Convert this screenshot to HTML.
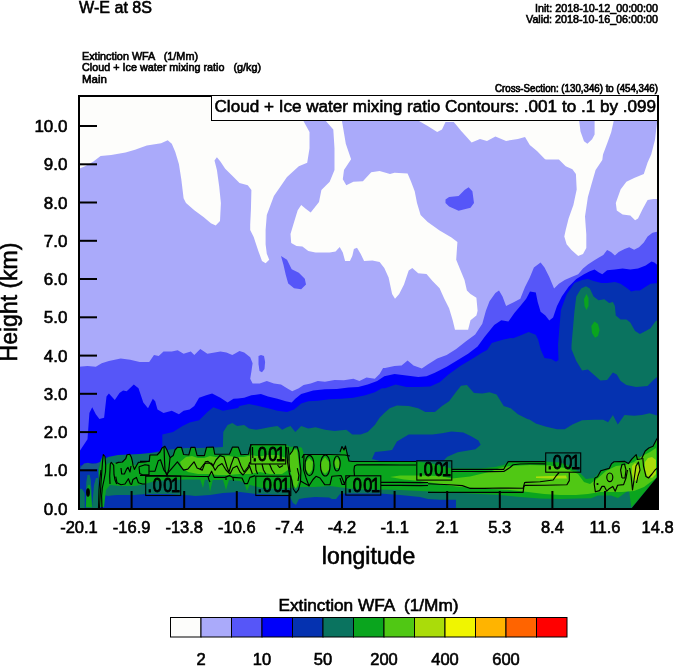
<!DOCTYPE html>
<html><head><meta charset="utf-8"><title>W-E at 8S</title>
<style>
html,body{margin:0;padding:0;background:#fff;}
body{width:674px;height:667px;overflow:hidden;position:relative;}
svg{position:absolute;left:0;top:0;display:block;}
text{font-family:"Liberation Sans",Arial,Helvetica,sans-serif;fill:#000;stroke:#000;stroke-width:0.6px;}
.sm{stroke-width:0.65px;}
.lbl text{stroke-width:0.9px;}
</style></head><body>
<svg width="674" height="667" viewBox="0 0 674 667">
<defs><clipPath id="pc"><rect x="79" y="96" width="579" height="413"/></clipPath></defs>
<!-- titles -->
<text x="79" y="13.2" font-size="17" textLength="73" lengthAdjust="spacingAndGlyphs">W-E at 8S</text>
<text class="sm" x="658" y="12" font-size="11.6" text-anchor="end" textLength="123" lengthAdjust="spacingAndGlyphs">Init: 2018-10-12_00:00:00</text>
<text class="sm" x="658" y="22.9" font-size="11.6" text-anchor="end" textLength="132" lengthAdjust="spacingAndGlyphs">Valid: 2018-10-16_06:00:00</text>
<text class="sm" x="82" y="59.6" font-size="11.6" textLength="116" lengthAdjust="spacingAndGlyphs" xml:space="preserve">Extinction WFA   (1/Mm)</text>
<text class="sm" x="82" y="71.4" font-size="11.6" textLength="179" lengthAdjust="spacingAndGlyphs" xml:space="preserve">Cloud + Ice water mixing ratio   (g/kg)</text>
<text class="sm" x="82" y="83" font-size="11.6" textLength="25" lengthAdjust="spacingAndGlyphs">Main</text>
<text class="sm" x="658" y="92.4" font-size="10" text-anchor="end" textLength="163" lengthAdjust="spacingAndGlyphs">Cross-Section: (130,346) to (454,346)</text>
<!-- plot -->
<g clip-path="url(#pc)">
<polygon fill="#AAAAFA" points="79,96 658,96 658,509 79,509"/>
<polygon fill="#FDFDFB" points="79,96 79,168.7 85.1,166.3 93.4,161.5 100.6,156.1 111.2,154.9 125.5,152.5 135,149.7 146.8,145.6 161.1,143.3 167.7,140.2 171.8,143.7 175.3,152 178.9,163.9 181.3,179.3 183.6,198.3 186,203 194.3,210.2 203.8,217.3 210.9,223.3 215.7,225.6 220,220.9 220.9,203 219.2,186.5 216.9,169.9 214.5,160.4 216.9,157.3 220.4,161.5 225.2,168.7 232.3,175.8 239.5,182.9 247.8,185.3 251.4,190 250.9,210.2 250.2,224.4 250.2,230 253.7,237.1 258.5,251.4 262,260.9 265.6,263.2 269.2,259.7 266.8,253.7 265.6,244.2 265.6,230 266.8,215 273.9,196 287,177 298.8,166.3 307.2,162.7 309.5,148.5 309.5,131.9 303.6,121.2 303,96"/>
<polygon fill="#FDFDFB" points="326,110 326.1,121.2 333.3,129.5 334.5,148.5 334.5,169.9 329.7,181.7 321.4,190 319,201.9 310.7,212.6 306,209 301.2,205 297.7,210.2 294.1,222 290.5,234 291.2,243.1 296.5,246.1 302.4,246.6 308.3,250.9 315.5,252.6 329.7,252.6 335.6,251.4 339.7,247.1 342.8,252.6 345.1,260.9 349.9,260.9 352.3,256.1 353.9,249 357,247.8 360.6,253.7 364.1,260.9 372.4,260.4 379.6,262 384.3,268 388.6,277.5 392.1,294.1 395,298.8 399.2,294.1 404,284.6 408.7,270.4 412.3,268 418.2,273.2 426.5,273.9 432.5,281 439.6,288.2 444.3,298.8 449.1,308.3 452.7,320.2 455,329.7 468.1,329.7 470.5,320.2 476.4,315.5 477.6,310.7 476.4,297.7 470.5,294.1 466.9,290.5 464.5,279.9 461,271.5 456.2,259.7 457.4,241.9 451.5,237.5 439.6,230.4 427.7,222 420.6,215 417,203.1 414.7,191.2 411.1,181.7 407.6,173.4 394.5,172.7 390,174.1 379.6,171 371.2,172.2 362.9,181.2 353.4,181.7 346.3,185.3 342.8,179.3 344,169.9 351.1,159.2 345.8,143.7 342,121.2 342,110"/>
<polygon fill="#FDFDFB" points="419.4,110 419.4,121.2 427.7,125.9 437.2,131.9 442,129.5 445.5,121.9 453.8,121.9 461,130.7 471.6,142.6 480,139 487,140.9 495.4,136.6 506.1,140.9 517.9,139 525,137.1 529.8,144.9 537,150.9 545,159.2 546.4,159.5 558.9,159.5 565.7,166.3 572.4,169.2 575.9,174 576.7,189.4 573.4,204.9 568.6,218.4 565.7,229.9 564.3,236.6 566.6,244.3 571.5,250.1 578.2,255.9 583,253.9 586.3,248.1 586.3,234.6 585,216.4 587.9,197.1 591.7,183.6 595.6,170.1 602.3,160 603,154.5 607.5,142.6 611.2,132.3 613.7,121 613.7,110 594.6,110 594.6,134.5 592.1,139.3 587.4,143.8 584,141.2 580.5,131.6 579.2,121 579.2,110"/>
<polygon fill="#FDFDFB" points="658,110 657.2,121 655,139.7 651.2,154.5 647.6,162.4 643.8,174 634.1,177.9 626.4,181.7 620.6,189.4 615.8,202.9 616.8,210.6 622.6,214.5 630.3,215.5 635.1,220.3 638,218.4 642.8,208.7 647.6,200 653.4,199.1 658,199.1"/>
<polygon fill="#5656F8" points="445.5,199.5 449.1,197.1 458.6,196 464.5,190 468.6,187.2 472.4,191.2 474,203.1 470.5,207.8 458.6,210.7 449.1,206.6 445.5,203.1"/>
<polygon fill="#5656F8" points="281,256.1 287,259.7 291.7,269.2 298.8,272.7 304.8,278.7 306,284.6 301.2,289.3 294.1,288.2 288.2,283.4 285.8,275.1 283.4,264.4"/>
<polygon fill="#5656F8" points="258.5,356 261,354.9 264,356 265.1,362 264.5,369 262,372.3 259.5,371 258.5,364"/>
<polygon fill="#5656F8" points="79,366.8 87.5,366.1 95.8,366.8 101.7,363.2 108.9,360.9 120.7,358.5 130.2,359.7 139.7,362 149.2,362 154,354.9 158.7,356.1 163.5,351.4 171.8,351.4 177.7,350.2 183.6,353.7 190.8,351.4 194.3,354.9 200.3,349 207.4,353.7 220.4,351.4 226.4,352.6 232.3,354.9 234.7,353.7 239.5,350.9 244.2,352.6 250.2,357.3 252.6,363.2 251.4,371.5 250.2,378.7 252.6,383.4 259.7,383.4 266.8,381 273.9,383.4 281,384.6 287,388.2 292.2,391.2 298.8,388.2 303.6,385.1 310.7,383.4 317.8,381 325,381.8 334.5,379.9 343.9,380.3 353.4,378.7 359.4,381 366.5,377.5 374.8,378.7 379.6,373.9 383.1,368 385,368 394.5,366.1 401.6,365.6 407.6,360.4 413.5,365.6 421.8,368.5 427.7,364.4 437.2,358.5 446.7,354.9 456.2,349 465.7,341.6 475.2,334.4 482.3,323.8 485.9,310.7 489.5,301.2 495.4,292.9 499,290.5 502.5,296.5 506.1,306 513.2,302.4 520.3,298.8 525,287 529.8,277.5 533.9,267.4 540.6,262.6 544.5,267.4 549.3,277.1 554.1,288.6 558.9,283.8 564.7,280 571.5,277.1 578.2,274.2 583,268.4 587.9,264.5 593.6,260.7 598.5,257.8 603.3,254.9 607.1,250.1 611,252 614.9,255.5 618.7,252 624.5,249.1 629.3,247.2 634.1,249.7 639,247.2 643.8,242.4 647.6,236.6 652.5,232.7 658,231.5 658,509 79,509"/>
<polygon fill="#0000FA" points="79,452 80.4,450.1 87.5,439.2 89.4,413.1 92.2,407.2 95.8,414.3 99.4,419 104.1,417.8 106.5,396.5 108.9,393.6 114.8,400 119.5,392.9 123.1,390.5 126.7,391.2 133.8,384.6 138.5,388.2 143.3,402.4 148,408.3 152.8,398.8 155.2,401.2 157.5,409.5 163.5,413.1 171.8,410.7 178.9,414.3 183.6,410.7 189.6,409.5 194.3,406 199.1,397.7 206.2,395.3 212.1,393.6 220.4,397.7 227.6,402.4 233.5,398.8 238,398.4 244.2,397.7 251.4,395.3 260.9,394.1 268,396.5 277.5,398.8 285.8,401.2 291.7,402.4 295.3,398.8 301.2,394.1 307.2,392.2 313.1,390.5 325,389.3 336.8,388.9 348.7,387.4 358.2,387 367.7,384.6 377.2,381 384.3,376.3 390,375.1 394.5,373.9 406.4,375.6 418.2,377 426.5,376.3 434.9,372.7 446.7,366.8 456.2,360.9 468.1,353.7 477.6,346.6 484.7,336.8 494.2,325 501.3,320.2 508.4,321.4 514.4,313.1 520.3,306 526.2,298.8 530,291.5 535.8,292.5 537.7,302.1 540.6,311.8 545.4,315.6 549.3,320.5 553.1,317.6 557,306 561.8,296.4 568.6,286.7 576.3,279 584,274.2 589.8,271.3 594.6,269.4 598.5,272.3 602.3,274.2 607.1,270.3 614.9,269.4 622.6,268.4 630.3,269.4 638,268.4 645.7,265.5 651.5,261.6 654.4,262.6 658,265.5 658,509 79,509"/>
<polygon fill="#0532B0" points="79,466 85,464 92,463 100,464 110,462 120,460 140,456 155,452 162.3,450 162.3,434.5 173,432.1 182.5,426.1 189.6,422.6 199.1,420.2 207.4,411.9 213.3,407.2 222.8,410.7 229.9,409.5 238,407.9 239.5,406 249,404.1 258.5,406 268,408.3 277.5,410.7 287,411.9 294.1,409.5 301.2,403.6 308.3,401.2 317.8,400.7 329.7,399.3 341.6,398.8 353.4,397.7 365.3,395.3 374.8,392.2 381.9,388.2 385,388.2 395.7,384.6 406.4,387 418.2,387 430.1,386.5 439.6,382.2 449.1,373.9 461,365.6 472.8,358.5 482.3,352.6 487.1,350.1 491.8,343.1 496.6,341.6 503.7,339.5 510.8,338 513.2,338.3 520.3,335.6 528.6,332.1 535.7,334.7 538.1,339.5 540.6,349.3 544.5,358 551.2,358.9 556,361.8 558.5,359.9 558,345 560.9,309.9 566.6,294.4 574.4,282.9 582.1,280 587.9,279 593.6,280.9 601.4,282.9 607.1,282.9 614.9,281.9 620.6,283.8 626.4,287.7 631.3,291.5 635.1,290.6 639.9,290.6 645.7,286.7 650.5,283.8 658,282.9 658,509 79,509"/>
<polygon fill="#0A735F" points="571.5,345 574.4,311.8 576.3,296.4 581.1,288.6 585.9,286.3 589.8,288.6 593.6,296.4 598.5,300.2 604.3,299.3 609.1,303.1 612.9,302.1 614.9,306 615.8,315.6 620.6,319.5 626.4,319.5 630.3,322.4 635.1,331.1 639.9,334 645.7,331.1 650.5,328.2 655.4,321.4 658,319.5 658,376.3 653.4,380.1 647.6,385.9 636.1,386.9 626.4,385 620.6,381.1 616.8,374.4 612.9,372.4 607.1,380.1 600.4,380.5 593.6,374.4 587.9,369.5 582.1,370.5 576.3,360.9 571.5,349.3"/>
<polygon fill="#0AA51E" points="586.5,294 588.5,298 588.5,306 586.5,310 584.5,306 584,299"/>
<polygon fill="#0AA51E" points="594.5,321.4 598,324 599.6,330 598,336 595,337.8 592,333 591.3,326"/>
<polygon fill="#0A735F" points="222.8,450 223.3,432.1 227.6,425 232.3,423.1 237.1,426.1 244.2,425 249,428.5 256.1,429.7 263.2,428.5 269.2,427.3 277.5,426.1 282.2,429.7 287,427.3 290.5,426.1 295.3,432.1 301.2,426.1 308.3,428.5 315.5,427.3 325,429.7 334.5,430.9 346.3,429.7 352.3,434.5 360.6,434.5 367.7,432.1 374.8,425 379.6,417.8 384.3,413.1 389.7,408.3 396.9,405.5 408.7,406 418.2,408.3 425.4,411.9 434.9,411.9 442,406 449.1,401.2 456.2,391.7 461,385.8 466.9,385.1 474,392.9 482.3,393.6 489.5,392.2 496.6,394.6 503.7,406 510.8,408.3 517.9,414.3 527.4,419 530,419.7 535.8,423.5 545.4,426.4 557,429.3 564.7,429.3 572.4,424.5 582.1,420.3 593.6,419.7 603.3,419.7 608.1,422.2 612.9,414.9 617.8,424.5 624.5,414.9 634.1,415.8 641.9,414.9 649.6,413.3 658,415.8 658,509 222.8,509"/>
<polygon fill="#1A5A8C" points="80,470 81,467 84,463.5 88,462.8 92,464 96,463.5 100,462 100,470"/>
<polygon fill="#0A735F" points="100,462 108,457 118,455 130,454.5 140,454 150,453 160,452 170,449.5 185,448 200,448 215,447.5 223,447 223,495 210,497 195,496 180,495 165,494 150,494 135,495 120,495 108,496 100,494 98,469"/>
<polygon fill="#0532B0" points="79,509 79,469 98,469 98,507 104,507 108,496 120,495 135,495 150,494 165,494 180,495 195,496 210,495 223,493 240,492 256,494 288,495 290,497 293,503 296,505 299,499 305,498 315,497 329,497.5 332,499 336,499 340,494 345,493.5 360,493.5 380,493.5 400,495 420,497 428,499 440,499.7 456,499.7 456,509"/>
<polygon fill="#0A735F" points="85.8,508 86.3,482 87.5,475 89.5,474.8 90.8,480 91.5,490 92.2,508"/>
<polygon fill="#0A735F" points="79,508 79,489 82,488.8 84.6,493 84.8,508"/>
<polygon fill="#0A735F" points="92,508 94,485 96,478 98,478 98,508"/>
<polygon fill="#0532B0" points="392.1,450.1 396.9,441.6 408.7,434.5 420.6,434.5 432.5,434.5 442,433.3 451.5,431.6 463.3,432.6 471.6,436.4 478.4,440.4 480.7,444.8 475.5,449.3 457.7,452.3 447.3,456.7 442.8,461.2 420,461 400,461 380,461 372,459 375,452 385,451"/>
<polygon fill="#0AA51E" points="98,507 99,470 101,460 103.3,454.5 105,456.5 106,465 108,463.5 111.3,462.4 113.7,463 118.4,462.4 122.4,462 125.7,458.7 127,454.7 129.7,454.3 131.4,457.3 132.4,461.4 134,465 137,464.7 138.4,462.4 145,462 149.3,461.3 149.9,455 157.1,455 160,452 162,448 164.9,446.2 167,450 170.1,457.7 173.2,455.6 175,450 177.4,447.3 181.5,447.3 183.6,454.5 188.8,455 190.9,447.3 195,447.3 197.1,455.6 204.4,455.6 206.5,447.3 213.4,447.1 214.7,454.2 229.4,454.2 232.5,447.1 238.3,447.1 241,454.7 248.5,454.2 249.9,447.6 251.2,444.5 270,444 286,444.5 289,446.5 291.5,447 293,446.5 296,449 300,447 302,448 304,454.5 320,454.5 340,454.5 342,447 344,450 345.5,446 347,453 349,461 352,461.5 380,461.5 416,461.5 430,463 452,468.5 480,468.5 495,467 503.8,465 508.2,461.6 520,461.2 545,461.5 560,462.5 570,466 580,473 586,479 594,478 598,474 602,470 609,468 612,464 615,461.8 625,461.4 628,463.6 632,458.8 636,454.4 641.6,458.8 645.2,451 649,448 653,446.2 658,437.5 658,476.5 631.3,507.7 629,490 618,498 611,495.5 598,495.5 591,498.2 578,498.5 560,499 540,498.5 520,497 500,495 480,494 460,493 440,492 420,491 400,490 380,489.5 360,489.5 345,488 330,486 315,487 300,487 290,488 280,489 262,488 250,485 240,481 230,480 215,480 200,479.5 185,479.5 170,480 155,481 145,484 135,486 120,486 110,485 106,490 104,507"/>
<polygon fill="#0AA51E" points="86,505 87,490 88,485 90,485 91,495 92,507 86,507"/>
<polygon fill="#0AA51E" points="200,479 203,488 205,479"/>
<polygon fill="#0AA51E" points="208,479 210,492 213,479"/>
<polygon fill="#0AA51E" points="223,480 226,490 229,480"/>
<polygon fill="#0AA51E" points="244,482 247,491 250,484"/>
<polygon fill="#50C814" points="180,462 186,457 192,456 198,458 204,458 210,456 216,457 222,457 228,456 236,457 244,457 252,455 256,456 262,456 268,455 278,455 286,458 290,462 288,470 282,474 270,474 260,472 250,474 240,474 228,475 218,475 208,474 198,474 188,472 182,468"/>
<polygon fill="#50C814" points="289.5,456 293,449.5 297,449.5 298.5,460 299.5,472 298.5,482 296,489 293.5,485 291.5,476 289.5,466"/>
<polygon fill="#50C814" points="306,462 309,458 313,462 312,470 309,474 306,470"/>
<polygon fill="#50C814" points="321,462 325,457 329,462 329,470 325,474 321,470"/>
<polygon fill="#50C814" points="334,462 337,458 340,462 339,468 336,468"/>
<polygon fill="#50C814" points="390,477 400,475.5 420,475.5 440,476 452,478.5 470,476.5 489,472 500,468 510,466 530,465 550,465.5 565,468 578,474 584,482 590,484 598,478 606,471 616,466 625,465 634,462 642,456 650,452 656,448 656,478 644,487 634,491 622,492 610,492 600,492 588,494 576,495 560,495 544,494 528,492 510,490 492,489 474,488 456,486.5 440,484 420,481 404,479.5"/>
<polygon fill="#AADC0A" points="536,476.5 550,476 566,475.5 567,478.5 550,478.5 536,478"/>
<polygon fill="#AADC0A" points="632,466 635,463 639,466 640,474 638,480 634,481 632,474"/>
<polygon fill="#AADC0A" points="645,462 648,458 652,457 656,460 656,474 652,478 647,476 645,470"/>
<polygon fill="#000000" points="631,509 658,476 658,509"/>
<g fill="none" stroke="#000" stroke-width="1.15" stroke-linejoin="round">
<!-- region A -->
<polyline points="99.5,508 100.2,495 101.2,480 102.5,462 103.3,454.5 105,456.5 105.7,465 105.5,472 104,480 102.3,488 101.6,496 102,508"/>
<polyline points="98.5,508 99,490 100,478 101,470"/>
<ellipse cx="88" cy="492.5" rx="1.3" ry="3.6" fill="#000"/>
<polyline points="110,484 109.7,476 110.3,464 111.3,462.4 113.7,465.4 114,474.7 115,480 116.7,484"/>
<polyline points="115.7,463.4 118.4,462.4 122.4,462 125.7,458.7 127,454.7 129.7,454.3 131.4,457.3 132.4,461.4 133,465.4 134.4,469.4 137,464.7 138.4,462.4 145,462 149.3,461.3"/>
<polyline points="121,468 121.7,474 124.4,474 126.4,469.4 128,467.4 130,472 131,466"/>
<polyline points="115.7,476.7 117,482.7 121,484.7 125,484 128.4,478.7 130.4,484 131.7,484.4 133,479.4 136.4,477.4 138.4,482.7 142.4,484 145,484"/>
<polyline points="139,466.7 139.7,473.4 142.4,474.7 149,474.7 149,465.4 145,464.7 139,466.7"/>
<!-- region B upper bumps -->
<polyline points="140,461.3 149.3,461.3 149.9,455 157.1,455 160,452 162,448 164.9,446.2 167,450 170.1,457.7 173.2,455.6 175,450 177.4,447.3 181.5,447.3 183.6,454.5 188.8,455 190.9,447.3 195,447.3 197.1,455.6 204.4,455.6 206.5,447.3 213.4,447.1 214.7,454.2 229.4,454.2 232.5,447.1 238.3,447.1 241,454.7 248.5,454.2 249.9,447.6 251.2,444.5"/>
<polyline points="164,447 164.5,460 165,470 167,476 169,468 170,458"/>
<!-- region B middle zigzag -->
<polyline points="149.3,471.2 155,471.2 158.2,460.8 160.5,459.8 163.9,470.1 167,474 171.2,469.1 177.4,461.8 183.6,470.1 187.8,469.1 194,461.8 197.1,468 202.3,470.1 205.4,461.8 208,461.4 213,466 216,460 220,455.5 224,457 227,467 229,472 231,465 234,457 238,458 241,466 244,472 248,467 250,462"/>
<polyline points="200,469.4 204,464 207,463 211.6,463.2 215.1,470.3 218,466 222,463.5 226,470 230,474 233,468 237,466 240,472 243,475 247,470 250,466"/>
<!-- region B lower line -->
<polyline points="140,475.5 160,475.5 180,476 200,476.5 208.9,476.5 211.6,471.2 214.2,477.4 224.9,477.4 229.4,475.6 233,477.4 242,478 244.5,483.6 247.5,483.6 249.9,477.4 255.2,475.6"/>
<polyline points="208,476.5 209,480 210,482"/>
<polyline points="226,477.5 226,480"/>
<polyline points="233,477.5 233.5,481"/>
<!-- region C (x 285-345) -->
<polyline points="286.5,447 287.5,462 289.5,474 291.7,480 293.3,489 296,492.8 298.5,489.6 300.5,481.7 300.9,470.6 299.7,461.8 298.9,452.3 297.3,446.8 294.1,446.8 292.5,451 289.7,454.7"/>
<polyline points="297.3,468.2 298.9,475.3 298,481"/>
<polyline points="302,457.9 304,454.3"/>
<polyline points="304,454.3 303.6,469.8 306,477.7 309.2,486.4"/>
<polyline points="304,454.5 315,454.5 330,454.5 345,455 350,456"/>
<ellipse cx="309.5" cy="465.5" rx="4.5" ry="10.2"/>
<ellipse cx="325.3" cy="465.5" rx="4.8" ry="10.5"/>
<ellipse cx="337" cy="463.5" rx="3.2" ry="7.5"/>
<polyline points="300.5,481 304,483 309,485.7 313,479.5 316,476.3 320,478 324.7,484.7 330,484.7 331.9,476.3 341,475.5 344.4,483.6 347,478 350,476"/>
<!-- region C/D: spiky bit and lines -->
<polyline points="340,452 342,446.5 344,450 345.5,446 347,453 349,461 352,461.5"/>
<polyline points="352,461.5 380,461.5 400,461.5 416,461.5"/>
<polyline points="354.5,476 354,470 354.5,466 357,464.8 380,464.8 400,465 416,465"/>
<polyline points="340,478 342,484.4 345,484.4"/>
<polyline points="381,482.3 400,482.3 420,482.6 428,482.5"/>
<polyline points="381,485.4 400,485.4 420,485.6 428,485.5"/>
<!-- region D right of box 5 -->
<polyline points="451.6,469.3 470,469.3 490,469.3 503.8,469.3 506,465 508.2,461.6 520,461.6 545.2,461.6"/>
<polyline points="451.6,471.5 470,471.5 490,471.6 503.8,471.5 510,467.5 513.2,464.8 520,464 530,463.8 545.2,463.8"/>
<polyline points="428,483.8 438,484.2 450,484.8 462.3,485.6 469.7,488.3 484.5,488.3 500,488 523.1,488.3 524.6,482.6 525.9,482.4 540,481.8 553.2,480 556,476 559.2,472.5"/>
<polyline points="428,492.3 450,492.3 480,492.3 510,492.3 523.1,492.3 523.8,487.1 524.7,485.4 545,485.2 566.9,484.8 569.3,480.6 569.3,472.5"/>
<!-- region F (x 594-658) -->
<polyline points="594.8,478 597.5,476.8 600.8,470.8 609.2,468.4 611.6,463.6 614,461.8 624.8,461.4 628.4,463.6 632,458.8 636.2,454.6 637.4,459.5 641.6,458.8 645.2,451 648.8,448 653,446.2 656.5,439.6 658,437"/>
<polyline points="594.8,478 594.2,484 595.4,491.8 599.6,490.6 602,486.4 604.4,486.4 606.8,491.2 609.2,488.7 612.8,486.4 615.2,491.2 617.6,485.2 623.6,484.6 626,478 627.5,470"/>
<ellipse cx="609.8" cy="477.3" rx="3" ry="4.3"/>
<polyline points="622,478 620.6,470 622,464.5 624.5,464 626,470 625,478 622,478"/>
<polyline points="629.6,468 631,475 632.5,490 634,480 636,466 638.5,462 640,470 638,476 636.5,483"/>
<polyline points="642.8,458 643.5,466 646,476.5 648.5,478 652,474 655,470 657.5,468"/>
<circle cx="597.5" cy="484" r="1.1" fill="#000" stroke="none"/>
<!-- extra lines around label 2 -->
<polyline points="255.5,464 256,470 257.6,474"/>
<polyline points="262,464 263.5,470 265.8,474"/>
<polyline points="269.5,464 272,470 274.7,474"/>
<polyline points="277.5,465 279.5,467.5 283,465.5"/>
<polyline points="249,465 251,470 252.4,474"/>
<polyline points="288,447 289,455 289,463 290,472"/>
<polyline points="252.5,447 252.8,458"/>
</g>
<g fill="none" stroke="#000" stroke-width="1.1">
<rect x="145.7" y="476.2" width="35" height="19.3"/>
<rect x="250.7" y="444.7" width="35" height="19.3"/>
<rect x="255.8" y="476.2" width="35" height="19.3"/>
<rect x="345.8" y="475.8" width="35" height="19.3"/>
<rect x="416.8" y="460.8" width="35" height="19.3"/>
<rect x="545.7" y="452.9" width="35" height="19.3"/>
</g><g class="lbl" font-size="20">
<text transform="translate(145.2,492.4) scale(0.816,1)" x="2.7 9.26 22 31.6" y="0">.001</text>
<text transform="translate(250.2,460.6) scale(0.816,1)" x="2.7 9.26 22 31.6" y="0">.001</text>
<text transform="translate(255.3,492.2) scale(0.816,1)" x="2.7 9.26 22 31.6" y="0">.001</text>
<text transform="translate(345.3,491.6) scale(0.816,1)" x="2.7 9.26 22 31.6" y="0">.001</text>
<text transform="translate(416.3,476.1) scale(0.816,1)" x="2.7 9.26 22 31.6" y="0">.001</text>
<text transform="translate(545.2,468.7) scale(0.816,1)" x="2.7 9.26 22 31.6" y="0">.001</text>
</g>

</g>
<!-- ticks -->
<g fill="#000">
<rect x="79" y="125" width="18" height="2"/>
<rect x="79" y="163.3" width="18" height="2"/>
<rect x="79" y="201.5" width="18" height="2"/>
<rect x="79" y="239.8" width="18" height="2"/>
<rect x="79" y="278" width="18" height="2"/>
<rect x="79" y="316.3" width="18" height="2"/>
<rect x="79" y="354.6" width="18" height="2"/>
<rect x="79" y="392.8" width="18" height="2"/>
<rect x="79" y="431.1" width="18" height="2"/>
<rect x="79" y="469.3" width="18" height="2"/>
<rect x="130.6" y="491" width="2" height="18"/>
<rect x="183.2" y="491" width="2" height="18"/>
<rect x="235.8" y="491" width="2" height="18"/>
<rect x="288.4" y="491" width="2" height="18"/>
<rect x="341" y="491" width="2" height="18"/>
<rect x="393.6" y="491" width="2" height="18"/>
<rect x="446.2" y="491" width="2" height="18"/>
<rect x="498.8" y="491" width="2" height="18"/>
<rect x="551.4" y="491" width="2" height="18"/>
<rect x="604" y="491" width="2" height="18"/>
</g>
<!-- frame -->
<rect x="79" y="96" width="579" height="413" fill="none" stroke="#000" stroke-width="2"/>
<!-- info box -->
<rect x="211.5" y="95.5" width="446" height="25" fill="#fff" stroke="#000" stroke-width="1"/>
<line x1="78" y1="96" x2="211.5" y2="96" stroke="#000" stroke-width="2"/>
<text x="214.5" y="111.9" font-size="17" textLength="441.5" lengthAdjust="spacingAndGlyphs">Cloud + Ice water mixing ratio Contours: .001 to .1 by .099</text>
<!-- y labels -->
<g font-size="17" text-anchor="end">
<text x="67.5" y="132">10.0</text>
<text x="67.5" y="170.3">9.0</text>
<text x="67.5" y="208.5">8.0</text>
<text x="67.5" y="246.8">7.0</text>
<text x="67.5" y="285">6.0</text>
<text x="67.5" y="323.3">5.0</text>
<text x="67.5" y="361.6">4.0</text>
<text x="67.5" y="399.8">3.0</text>
<text x="67.5" y="438.1">2.0</text>
<text x="67.5" y="476.3">1.0</text>
<text x="67.5" y="514.6">0.0</text>
</g>
<!-- x labels -->
<g font-size="16.5" text-anchor="middle">
<text x="79" y="533">-20.1</text>
<text x="131.6" y="533">-16.9</text>
<text x="184.2" y="533">-13.8</text>
<text x="236.8" y="533">-10.6</text>
<text x="289.4" y="533">-7.4</text>
<text x="342" y="533">-4.2</text>
<text x="394.6" y="533">-1.1</text>
<text x="447.2" y="533">2.1</text>
<text x="499.8" y="533">5.3</text>
<text x="552.4" y="533">8.4</text>
<text x="605" y="533">11.6</text>
<text x="657.6" y="533">14.8</text>
</g>
<text x="368.5" y="564" font-size="23" text-anchor="middle">longitude</text>
<text transform="translate(16.8,302) rotate(-90)" font-size="23" text-anchor="middle">Height (km)</text>
<!-- colorbar -->
<text x="368.5" y="610.8" font-size="17" text-anchor="middle" textLength="180" lengthAdjust="spacingAndGlyphs" xml:space="preserve">Extinction WFA  (1/Mm)</text>
<g stroke="#000" stroke-width="1">
<rect x="170.5" y="617.5" width="30.5" height="19.5" fill="#FDFDFB"/>
<rect x="201" y="617.5" width="30.5" height="19.5" fill="#AAAAFA"/>
<rect x="231.5" y="617.5" width="30.5" height="19.5" fill="#5656F8"/>
<rect x="262" y="617.5" width="30.5" height="19.5" fill="#0000FA"/>
<rect x="292.5" y="617.5" width="30.5" height="19.5" fill="#0532B0"/>
<rect x="323" y="617.5" width="30.5" height="19.5" fill="#0A735F"/>
<rect x="353.5" y="617.5" width="30.5" height="19.5" fill="#0AA51E"/>
<rect x="384" y="617.5" width="30.5" height="19.5" fill="#50C814"/>
<rect x="414.5" y="617.5" width="30.5" height="19.5" fill="#AADC0A"/>
<rect x="445" y="617.5" width="30.5" height="19.5" fill="#F0F500"/>
<rect x="475.5" y="617.5" width="30.5" height="19.5" fill="#FFB400"/>
<rect x="506" y="617.5" width="30.5" height="19.5" fill="#FF6400"/>
<rect x="536.5" y="617.5" width="30.5" height="19.5" fill="#FF0000"/>
</g>
<g font-size="16.5" text-anchor="middle">
<text x="201" y="665">2</text>
<text x="262" y="665">10</text>
<text x="323" y="665">50</text>
<text x="384" y="665">200</text>
<text x="445" y="665">400</text>
<text x="506" y="665">600</text>
</g>
</svg>
</body></html>
